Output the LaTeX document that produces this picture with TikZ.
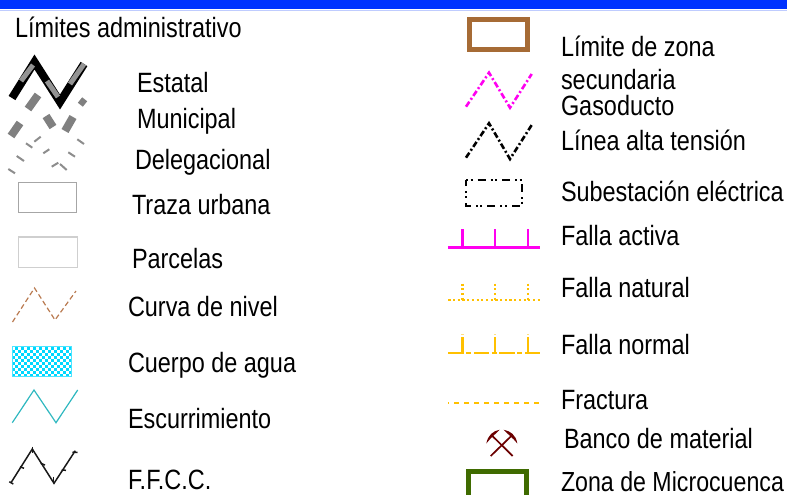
\documentclass[tikz,border=0pt]{standalone}
\usepackage{fontspec}
\setmainfont[FakeStretch=0.84]{Liberation Sans}
\definecolor{barblue}{HTML}{0033FF}
\definecolor{gris}{HTML}{808080}
\definecolor{brownz}{HTML}{A66B35}
\definecolor{curva}{HTML}{B97A50}
\definecolor{aguac}{HTML}{00D8FF}
\definecolor{escu}{HTML}{2FB8C0}
\definecolor{mag}{HTML}{FF00F0}
\definecolor{ambar}{HTML}{FFC000}
\definecolor{pico}{HTML}{6B0000}
\definecolor{verde}{HTML}{3F6B00}
\tikzset{
  lbl/.style={anchor=base west,inner sep=0pt,outer sep=0pt,font=\fontsize{27.9}{30}\selectfont,text=black},
  grisgrueso/.style={gris,line width=8pt},
  grisfino/.style={gris!90,line width=2pt},
  zig/.style={line join=miter,miter limit=10},
  dashdot/.style={line width=2.6pt,dash pattern=on 6pt off 2.5pt on 2pt off 2.5pt},
}
\begin{document}
\begin{tikzpicture}[x=1pt,y=-1pt]
\useasboundingbox (0,0) rectangle (787,495);
\fill[barblue] (0,0) rectangle (787,9.5);
\draw[barblue!25,line width=.8pt] (0,10) -- (787,10);
% left labels
\node[lbl] (t0) at (15,37.5) {Límites administrativo};
\node[lbl] (t1) at (137,92.5) {Estatal};
\node[lbl] (t2) at (137,128.5) {Municipal};
\node[lbl] (t3) at (135,169.5) {Delegacional};
\node[lbl] (t4) at (132,214.5) {Traza urbana};
\node[lbl] (t5) at (132,268.5) {Parcelas};
\node[lbl] (t6) at (128,316.5) {Curva de nivel};
\node[lbl] (t7) at (128,372.5) {Cuerpo de agua};
\node[lbl] (t8) at (128,428.5) {Escurrimiento};
\node[lbl] (t9) at (128,489.5) {F.F.C.C.};
% right labels
\node[lbl] (r1) at (561,56.5) {Límite de zona};
\node[lbl] (r2) at (561,89.5) {secundaria};
\node[lbl] (r3) at (561,115) {Gasoducto};
\node[lbl] (r4) at (561,150.5) {Línea alta tensión};
\node[lbl] (r5) at (561,201.5) {Subestación eléctrica};
\node[lbl] (r6) at (561,245.5) {Falla activa};
\node[lbl] (r7) at (561,297.5) {Falla natural};
\node[lbl] (r8) at (561,354.5) {Falla normal};
\node[lbl] (r9) at (561,409.5) {Fractura};
\node[lbl] (r10) at (564,448.5) {Banco de material};
\node[lbl,font=\fontsize{27.6}{30}\selectfont] (r11) at (561,491) {Zona de Microcuenca};
% Estatal
\draw[black,line width=8pt,zig] (12,98) -- (34.5,62) -- (60,102) -- (84,64);
\draw[gris!85,line width=5pt] (21,81) -- (33,65);
\draw[gris!85,line width=5pt] (47,81) -- (58,97);
\draw[gris!85,line width=5pt] (70,84) -- (84,64);
% Municipal
\draw[grisgrueso] (28,109) -- (38,95);
\draw[grisgrueso] (46,116) -- (53,127);
\draw[grisgrueso] (65,131) -- (73,117);
\draw[grisgrueso] (11,136) -- (20,123);
\draw[gris,line width=7pt] (80,100) -- (85,104);
% Delegacional
\draw[grisfino] (34.3,141.7) -- (40.7,136.7);
\draw[grisfino] (26,143.3) -- (32.3,147.7);
\draw[grisfino] (43.3,153.3) -- (49.3,149.3);
\draw[grisfino] (77.3,139.3) -- (84,144);
\draw[grisfino] (68.3,152.3) -- (75,156.7);
\draw[grisfino] (51.7,166.7) -- (58.3,162.7);
\draw[grisfino] (60,164) -- (66.7,170);
\draw[grisfino] (16.7,156) -- (24,161);
\draw[grisfino] (8.3,169) -- (15,173.3);
% Traza and Parcelas
\draw[black!35,line width=1.5pt] (18.7,182.7) rectangle (76.7,212.7);
\draw[black!19,line width=1.5pt] (18.7,237) rectangle (77.5,267.5);
% Curva de nivel
\draw[curva,line width=1.2pt,dash pattern=on 5pt off 3pt] (12.5,322) -- (34.5,288) -- (55,320) -- (76,291);
% Cuerpo de agua
\fill[aguac] (12.3,346.7) rectangle (71.7,376.7);
\foreach \i in {0,...,19}{\foreach \j in {0,...,9}{%
  \pgfmathparse{int(mod(\i+\j,2))}%
  \ifnum\pgfmathresult=0
    \fill[white] ({12.3+2.97*\i},{346.7+3*\j}) rectangle ++(2.97,3);
  \fi}}
\draw[aguac!70,line width=.8pt] (12.3,346.7) rectangle (71.7,376.7);
% Escurrimiento
\draw[escu,line width=1.2pt,zig] (12.3,422.7) -- (34,390) -- (56,422.7) -- (77.7,390);
% FFCC
\draw[black!90,line width=1.5pt,zig] (11,482.7) -- (32.3,449) -- (54,483.3) -- (75.3,450.7);
\foreach \a/\b/\c/\d in {9.3/481.7/13.3/484, 20/466.7/24/468.3, 32.3/446.7/32.3/452.7, 40.7/463.3/45/465, 53.3/476.7/53.3/483.3, 61.7/470/66/470.3, 72.5/452/77.5/452.5}
  \draw[black!90,line width=1.5pt] (\a,\b) -- (\c,\d);
% Zona secundaria
\draw[brownz,line width=4.8pt] (469.4,19.2) rectangle (527.3,49.2);
% Gasoducto, Linea
\draw[mag,dashdot] (466,106.7) -- (489,72.7) -- (510,107.7) -- (531.7,74);
\draw[black,dashdot] (466,157.7) -- (489,123.3) -- (510,159) -- (531.7,125);
% Subestacion
\draw[black,line width=2.2pt,dash pattern=on 2pt off 2.5pt on 2pt off 5pt on 8pt off 5pt] (466,180) -- (522.3,180) -- (522.3,206) -- (466,206) -- cycle;
% Falla activa
\draw[mag,line width=2.5pt] (448.3,247.3) -- (540,247.3);
\foreach \x in {462.3,495,528} \draw[mag,line width=2.5pt] (\x,229) -- (\x,247.3);
% Falla natural
\draw[ambar,line width=2.4pt,dash pattern=on 2.2pt off 2.5pt] (448.3,300) -- (540,300);
\foreach \x in {462.3,495,528} \draw[ambar,line width=2.4pt,dash pattern=on 2.2pt off 2.5pt] (\x,283.5) -- (\x,300);
% Falla normal
\draw[ambar,line width=2.4pt,dash pattern=on 15.5pt off 2.5pt on 5pt off 2.5pt] (448.3,352.7) -- (540,352.7);
\foreach \x in {462.3,495,528} {
  \draw[ambar,line width=2.4pt] (\x,337) -- (\x,352.7);
  \draw[ambar!50,line width=2.4pt] (\x,334) -- (\x,335);
}
% Fractura
\draw[ambar,line width=2pt,dash pattern=on 5.3pt off 4.7pt] (454,403) -- (540,403);
\draw[ambar,line width=2pt] (448.3,403) -- (449,403);
% Pico
\draw[pico,line width=1.7pt] (490.7,456) -- (512,435.3);
\draw[pico,line width=1.7pt] (512.7,456) -- (491.7,435.3);
\fill[pico] (486.3,443.5) .. controls (488,435) and (493,431) .. (499.7,429.7) .. controls (495.5,434) and (491,437.5) .. cycle;
\fill[pico] (517.3,443.5) .. controls (516,435) and (510.5,431) .. (503.5,429.7) .. controls (507.5,434) and (512.5,437.5) .. cycle;
% Zona microcuenca
\draw[verde,line width=5.2pt] (468.7,495) -- (468.7,471.5) -- (526.7,471.5) -- (526.7,495);
\end{tikzpicture}
\end{document}
